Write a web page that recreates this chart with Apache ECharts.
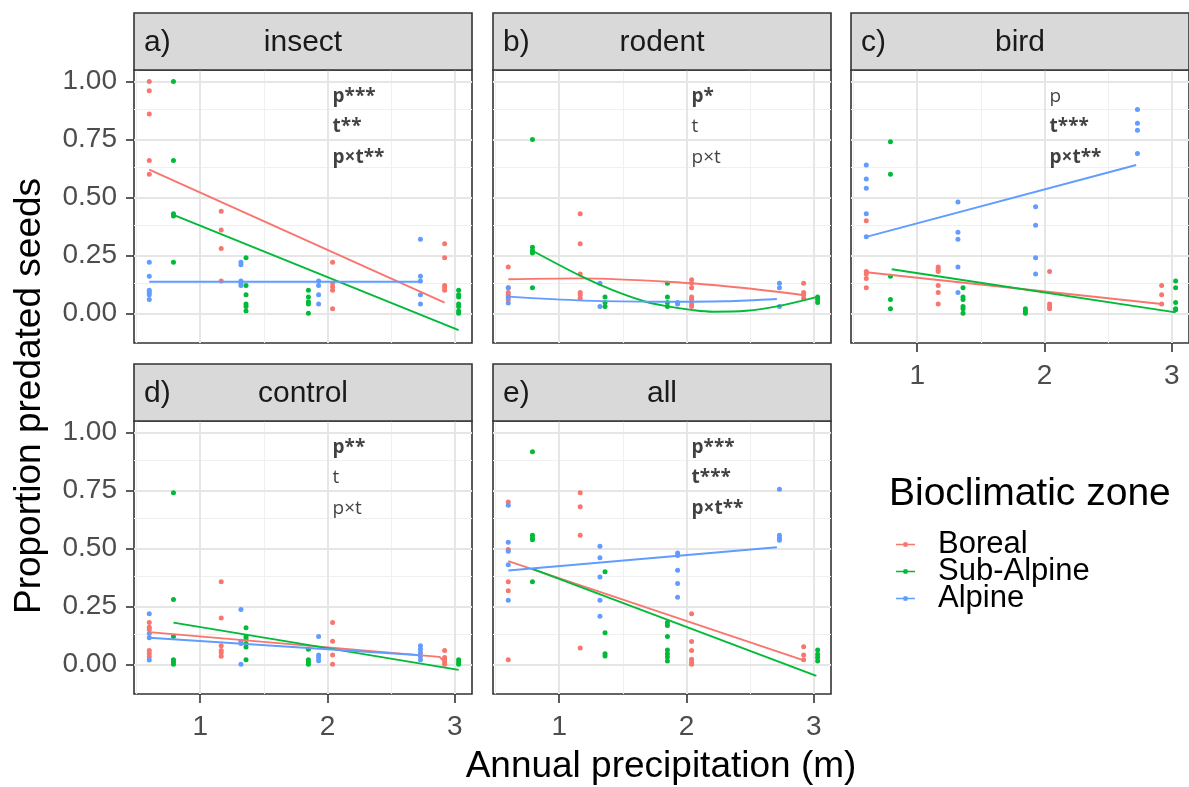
<!DOCTYPE html>
<html>
<head>
<meta charset="utf-8">
<script src="https://cdn.jsdelivr.net/npm/echarts@6/dist/echarts.min.js"></script>
<style>
html,body{margin:0;padding:0;background:#fff;}
#chart{width:1189px;height:787px;}
</style>
</head>
<body>
<div id="chart"></div>
<script>
// ---------------- DATA ----------------
const zones = ['Boreal', 'Sub-Alpine', 'Alpine'];
const panelKeys = ['insect', 'rodent', 'bird', 'control', 'all'];
const panelLetters = ['a)', 'b)', 'c)', 'd)', 'e)'];

// site precipitation (m) per zone
const sitesBoreal = [0.60, 1.165, 2.04, 2.92];
const sitesSub = [0.79, 1.36, 1.85, 3.03];
const sitesAlp = [0.60, 1.32, 1.93, 2.73];

// proportions of predated seeds, one list per site
const insectBoreal = [[1.00,0.96,0.86,0.66,0.60],[0.44,0.36,0.28,0.14],[0.22,0.13,0.115,0.10,0.02],[0.30,0.24,0.12,0.11,0.10]];
const insectSub    = [[1.00,0.66,0.43,0.42,0.22],[0.24,0.12,0.08,0.04,0.03,0.01],[0.10,0.07,0.05,0.04,0.00],[0.10,0.08,0.07,0.04,0.03,0.01,0.00]];
const insectAlp    = [[0.22,0.16,0.10,0.09,0.08,0.06],[0.22,0.21,0.14,0.13,0.12],[0.14,0.12,0.08,0.04],[0.32,0.16,0.14,0.08,0.04]];

const rodentBoreal = [[0.20,0.11,0.09,0.08,0.06],[0.43,0.30,0.17,0.09,0.08,0.065],[0.145,0.13,0.11,0.07,0.06,0.04,0.03],[0.13,0.09,0.08,0.065]];
const rodentSub    = [[0.75,0.285,0.27,0.26,0.11],[0.07,0.047,0.03],[0.13,0.07,0.047,0.03],[0.07,0.06,0.047]];
const rodentAlp    = [[0.11,0.07,0.045],[0.13,0.03],[0.047,0.04],[0.13,0.11,0.03]];

const birdBoreal = [[0.40,0.18,0.17,0.15,0.11],[0.20,0.19,0.18,0.12,0.09,0.04],[0.18,0.04,0.03,0.02],[0.12,0.08,0.04]];
const birdSub    = [[0.74,0.60,0.16,0.06,0.02],[0.11,0.07,0.06,0.03,0.02,0.00],[0.02,0.01,0.00],[0.14,0.11,0.047,0.02,0.015]];
const birdAlp    = [[0.64,0.58,0.54,0.43,0.33],[0.48,0.35,0.32,0.20,0.09],[0.46,0.38,0.24,0.17],[0.88,0.82,0.79,0.69]];

const controlBoreal = [[0.18,0.16,0.15,0.06,0.047,0.033],[0.356,0.20,0.08,0.06,0.05,0.035],[0.18,0.10,0.04,0.00],[0.06,0.03,0.02,0.01,0.00]];
const controlSub    = [[0.74,0.28,0.12,0.02,0.01,0.00],[0.158,0.12,0.11,0.09,0.075,0.02],[0.065,0.02,0.01,0.00],[0.02,0.01,0.00]];
const controlAlp    = [[0.218,0.133,0.115,0.019],[0.237,0.10,0.09,0.00],[0.12,0.04,0.03,0.015],[0.08,0.065,0.05,0.035,0.02]];

const allBoreal = [[0.70,0.495,0.356,0.318,0.02],[0.74,0.68,0.557,0.07],[0.218,0.098,0.06,0.022,0.01,0.00],[0.076,0.04,0.02]];
const allSub    = [[0.917,0.557,0.545,0.538,0.356],[0.40,0.136,0.046,0.036],[0.18,0.168,0.12,0.062,0.046,0.032,0.014],[0.062,0.043,0.029,0.014]];
const allAlp    = [[0.686,0.527,0.488,0.43,0.277],[0.51,0.46,0.377,0.277,0.208],[0.48,0.47,0.406,0.349,0.29],[0.756,0.557,0.545,0.535]];

// fitted model lines [precipitation, proportion]
const insectFitBoreal = [[0.60,0.62],[2.92,0.046]];
const insectFitSub    = [[0.79,0.425],[3.03,-0.072]];
const insectFitAlp    = [[0.60,0.136],[2.73,0.136]];
const rodentFitBoreal = [[0.60,0.147],[1.16,0.151],[2.03,0.13],[2.47,0.108],[2.91,0.079]];
const rodentFitSub    = [[0.79,0.27],[1.18,0.158],[1.42,0.10],[1.68,0.05],[1.84,0.031],[2.05,0.014],[2.21,0.007],[2.47,0.011],[2.71,0.03],[3.02,0.07]];
const rodentFitAlp    = [[0.60,0.072],[1.20,0.055],[1.80,0.05],[2.30,0.052],[2.71,0.062]];
const birdFitBoreal   = [[0.60,0.177],[2.92,0.04]];
const birdFitSub      = [[0.80,0.19],[3.03,0.004]];
const birdFitAlp      = [[0.60,0.33],[2.72,0.64]];
const controlFitBoreal= [[0.60,0.139],[2.88,0.032],[2.92,0.01]];
const controlFitSub   = [[0.79,0.18],[3.03,-0.024]];
const controlFitAlp   = [[0.60,0.115],[2.73,0.039]];
const allFitBoreal    = [[0.60,0.445],[2.91,0.019]];
const allFitSub       = [[0.79,0.412],[3.02,-0.05]];
const allFitAlp       = [[0.60,0.405],[2.71,0.505]];

// significance annotations: [text, bold]
const insectSig  = [['p***',1],['t**',1],['p×t**',1]];
const rodentSig  = [['p*',1],['t',0],['p×t',0]];
const birdSig    = [['p',0],['t***',1],['p×t**',1]];
const controlSig = [['p**',1],['t',0],['p×t',0]];
const allSig     = [['p***',1],['t***',1],['p×t**',1]];

// axes
const xTickValues = [1, 2, 3];
const xTickLabels = ['1', '2', '3'];
const yTickValues = [0, 0.25, 0.5, 0.75, 1];
const yTickLabels = ['0.00', '0.25', '0.50', '0.75', '1.00'];
const xMinorGrid = [0.5, 1.5, 2.5];
const yMinorGrid = [0.125, 0.375, 0.625, 0.875];
const xTitle = 'Annual precipitation (m)';
const yTitle = 'Proportion predated seeds';
const legendTitle = 'Bioclimatic zone';

// ---------------- LAYOUT / STYLE ----------------
const COLORS = {'Boreal':'#F8766D','Sub-Alpine':'#00BA38','Alpine':'#619CFF'};
const X_MIN = 0.48, X_MAX = 3.135, Y_MIN = -0.128, Y_MAX = 1.05;
const PW = 338, PH = 273, STRIP_H = 57;
const panelPos = [[134,70],[493,70],[851,70],[134,421],[493,421]];
const showX = [false,false,true,true,true];
const showY = [true,false,false,true,false];
const annoX = 2.04, annoY = [0.935, 0.805, 0.672];
const SANS = '"Liberation Sans", Arial, sans-serif';

const panelSites = [sitesBoreal, sitesSub, sitesAlp];
const panelValues = {
  insect:[insectBoreal,insectSub,insectAlp],
  rodent:[rodentBoreal,rodentSub,rodentAlp],
  bird:[birdBoreal,birdSub,birdAlp],
  control:[controlBoreal,controlSub,controlAlp],
  all:[allBoreal,allSub,allAlp]
};
const panelFits = {
  insect:[insectFitBoreal,insectFitSub,insectFitAlp],
  rodent:[rodentFitBoreal,rodentFitSub,rodentFitAlp],
  bird:[birdFitBoreal,birdFitSub,birdFitAlp],
  control:[controlFitBoreal,controlFitSub,controlFitAlp],
  all:[allFitBoreal,allFitSub,allFitAlp]
};
const panelSig = {insect:insectSig, rodent:rodentSig, bird:birdSig, control:controlSig, all:allSig};

function toPoints(sites, vals){
  const out = [];
  vals.forEach((arr, i) => arr.forEach(v => out.push([sites[i], v])));
  return out;
}

const grids = [], xAxes = [], yAxes = [], series = [], graphics = [];
panelKeys.forEach((key, i) => {
  const [L, T] = panelPos[i];
  grids.push({left:L, top:T, width:PW, height:PH, show:true, backgroundColor:'#fff',
    borderColor:'#333', borderWidth:1.6, containLabel:false});
  xAxes.push({gridIndex:i, type:'value', min:X_MIN, max:X_MAX,
    splitLine:{show:false}, axisLine:{show:false, onZero:false},
    axisTick:{show:showX[i], customValues:xTickValues, length:9, lineStyle:{color:'#333', width:1.6}},
    axisLabel:{show:showX[i], customValues:xTickValues, margin:19, fontSize:28, color:'#4d4d4d', fontFamily:SANS,
      formatter:(v)=>{const k = xTickValues.indexOf(v); return k>=0 ? xTickLabels[k] : '';}}
  });
  yAxes.push({gridIndex:i, type:'value', min:Y_MIN, max:Y_MAX,
    splitLine:{show:false}, axisLine:{show:false, onZero:false},
    axisTick:{show:showY[i], customValues:yTickValues, length:8, lineStyle:{color:'#333', width:1.6}},
    axisLabel:{show:showY[i], customValues:yTickValues, margin:17, fontSize:28, color:'#4d4d4d', fontFamily:SANS,
      formatter:(v)=>{const k = yTickValues.findIndex(t=>Math.abs(t-v)<1e-9); return k>=0 ? yTickLabels[k] : '';}}
  });
  // grid lines
  const major = {color:'#e6e6e6', width:2, type:'solid'};
  const minor = {color:'#f0f0f0', width:1.1, type:'solid'};
  const ml = [];
  yMinorGrid.forEach(v=>ml.push({yAxis:v, lineStyle:minor}));
  xMinorGrid.forEach(v=>ml.push({xAxis:v, lineStyle:minor}));
  yTickValues.forEach(v=>ml.push({yAxis:v, lineStyle:major}));
  xTickValues.forEach(v=>ml.push({xAxis:v, lineStyle:major}));
  series.push({type:'scatter', xAxisIndex:i, yAxisIndex:i, data:[], symbolSize:0, silent:true, z:1,
    markLine:{silent:true, z:1, symbol:'none', label:{show:false}, animation:false, data:ml}});
  // points & fits
  zones.forEach((z, zi) => {
    series.push({name:z, type:'scatter', xAxisIndex:i, yAxisIndex:i, z:3,
      data: toPoints(panelSites[zi], panelValues[key][zi]),
      symbol:'circle', symbolSize:5, itemStyle:{color:COLORS[z], opacity:1}});
  });
  zones.forEach((z, zi) => {
    series.push({name:z, type:'line', xAxisIndex:i, yAxisIndex:i, z:4,
      data: panelFits[key][zi], showSymbol:false, symbol:'none',
      smooth: panelFits[key][zi].length > 4 ? 0.35 : false,
      lineStyle:{color:COLORS[z], width:1.9}, itemStyle:{color:COLORS[z]}});
  });
  // annotations
  series.push({type:'scatter', xAxisIndex:i, yAxisIndex:i, z:5, symbolSize:0, silent:true,
    data: panelSig[key].map((s, k) => ({value:[annoX, annoY[k]],
      label:{show:true, position:'right', distance:0, formatter:s[0],
        fontWeight: s[1] ? 'bold' : 'normal', fontSize:19, color:'#111', fontFamily:'"Open Sans", sans-serif'}}))
  });
  // strip
  graphics.push({type:'rect', shape:{x:L, y:T-STRIP_H, width:PW, height:STRIP_H}, z:10,
    style:{fill:'#d9d9d9', stroke:'#333', lineWidth:1.6}});
  graphics.push({type:'text', x:L+10, y:T-STRIP_H/2+1, z:11,
    style:{text:panelLetters[i], font:'30px '+SANS, fill:'#1a1a1a', textAlign:'left', textVerticalAlign:'middle'}});
  graphics.push({type:'text', x:L+PW/2, y:T-STRIP_H/2+1, z:11,
    style:{text:key, font:'30px '+SANS, fill:'#1a1a1a', textAlign:'center', textVerticalAlign:'middle'}});
});

graphics.push({type:'text', x:30, y:396, rotation:Math.PI/2, z:11,
  style:{text:yTitle, font:'37px '+SANS, fill:'#000', textAlign:'center', textVerticalAlign:'middle'}});
graphics.push({type:'text', x:661, y:767, z:11,
  style:{text:xTitle, font:'37px '+SANS, fill:'#000', textAlign:'center', textVerticalAlign:'middle'}});
graphics.push({type:'text', x:889, y:494, z:11,
  style:{text:legendTitle, font:'39px '+SANS, fill:'#000', textAlign:'left', textVerticalAlign:'middle'}});

const option = {
  animation:false,
  backgroundColor:'#fff',
  grid:grids, xAxis:xAxes, yAxis:yAxes, series:series,
  legend:{data:zones, orient:'vertical', left:891, top:524, itemWidth:19, itemHeight:8, itemGap:-4,
    icon:'path://M0,3.2 L7.6,3.2 L8.2,1.6 L11.8,1.6 L12.4,3.2 L20,3.2 L20,4.8 L12.4,4.8 L11.8,6.4 L8.2,6.4 L7.6,4.8 L0,4.8 Z',
    textStyle:{fontSize:31, fontFamily:SANS, color:'#000', padding:[0,0,0,18]},
    selectedMode:false},
  graphic:graphics
};
const chart = echarts.init(document.getElementById('chart'), null, {renderer:'canvas'});
chart.setOption(option);
</script>
</body>
</html>
